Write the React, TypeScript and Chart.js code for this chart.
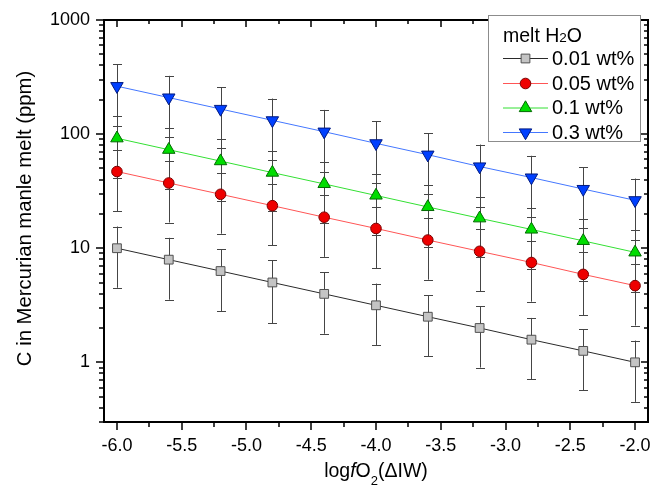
import React, { useEffect, useRef } from 'react';
import { Chart, registerables } from 'chart.js';
import { drawPoint } from 'chart.js/helpers';

Chart.register(...registerables);

// ---------- data ----------
const xValues = [-6.0, -5.6, -5.2, -4.8, -4.4, -4.0, -3.6, -3.2, -2.8, -2.4, -2.0];

const seriesNames = ['0.01 wt%', '0.05 wt%', '0.1 wt%', '0.3 wt%'];

const c001 = [10, 7.94, 6.31, 5.01, 3.98, 3.16, 2.51, 2.0, 1.58, 1.26, 1.0];
const e001 = [5.5, 4.4, 3.5, 2.8, 2.2, 1.74, 1.38, 1.1, 0.87, 0.69, 0.55];

const c005 = [47, 37.3, 29.7, 23.6, 18.7, 14.9, 11.8, 9.4, 7.5, 5.9, 4.7];
const e005 = [26, 20.5, 16.3, 13, 10.3, 8.2, 6.5, 5.2, 4.1, 3.3, 2.6];

const c01 = [92, 73, 58, 46, 36.6, 29, 23, 18.3, 14.6, 11.6, 9.2];
const e01 = [51, 40, 32, 25, 20, 16, 12.7, 10, 8, 6.4, 5.1];

const c03 = [263, 209, 166, 132, 105, 83, 66, 52, 41.6, 33, 26.3];
const e03 = [145, 115, 91, 73, 58, 46, 36, 29, 23, 18, 14.5];

const xMajorTicks = [-6.0, -5.5, -5.0, -4.5, -4.0, -3.5, -3.0, -2.5, -2.0];
const xMinorTicks = [-5.75, -5.25, -4.75, -4.25, -3.75, -3.25, -2.75, -2.25];
const yMajorTicks = [1, 10, 100, 1000];
const yMinorTicks = [
  0.3, 0.4, 0.5, 0.6, 0.7, 0.8, 0.9,
  2, 3, 4, 5, 6, 7, 8, 9,
  20, 30, 40, 50, 60, 70, 80, 90,
  200, 300, 400, 500, 600, 700, 800, 900,
];

const X_MIN = -6.1;
const X_MAX = -1.9;
const Y_MIN = 0.3;
const Y_MAX = 1000;

// ---------- styles ----------
const FONT = '"Liberation Sans", Arial, Helvetica, sans-serif';

const styles = [
  { line: '#2a2a2a', fill: '#c4c4c4', border: '#505050', pointStyle: 'rect', radius: 6.2, rotation: 0 },
  { line: '#ff5555', fill: '#ee0000', border: '#7a0000', pointStyle: 'circle', radius: 5.3, rotation: 0 },
  { line: '#33e033', fill: '#00dd00', border: '#006a00', pointStyle: 'triangle', radius: 7.2, rotation: 0 },
  { line: '#4477ff', fill: '#0040ff', border: '#001a80', pointStyle: 'triangle', radius: 7.2, rotation: 180 },
];

const values = [c001, c005, c01, c03];
const errors = [e001, e005, e01, e03];

const errorBars = {
  id: 'errorBars',
  beforeDatasetsDraw(chart: any) {
    const { ctx, scales } = chart;
    const xs = scales.x;
    const ys = scales.y;
    ctx.save();
    ctx.strokeStyle = '#454545';
    ctx.lineWidth = 1;
    values.forEach((vals, i) => {
      vals.forEach((v, j) => {
        const e = errors[i][j];
        const x = Math.round(xs.getPixelForValue(xValues[j])) + 0.5;
        const yt = ys.getPixelForValue(v + e);
        const yb = ys.getPixelForValue(v - e);
        ctx.beginPath();
        ctx.moveTo(x, yt);
        ctx.lineTo(x, yb);
        ctx.moveTo(x - 4.5, Math.round(yt) + 0.5);
        ctx.lineTo(x + 4.5, Math.round(yt) + 0.5);
        ctx.moveTo(x - 4.5, Math.round(yb) + 0.5);
        ctx.lineTo(x + 4.5, Math.round(yb) + 0.5);
        ctx.stroke();
      });
    });
    ctx.restore();
  },
};

const frameAndExtras = {
  id: 'frameAndExtras',
  afterDraw(chart: any) {
    const { ctx, chartArea: a, scales } = chart;
    const xs = scales.x;
    const ys = scales.y;
    ctx.save();
    ctx.strokeStyle = '#000';
    ctx.lineWidth = 2;
    ctx.strokeRect(a.left, a.top, a.right - a.left, a.bottom - a.top);

    ctx.lineWidth = 1.5;
    ctx.beginPath();
    const MAJ = 8;
    const MIN = 5;
    const MAJ_IN = 7;
    const MIN_IN = 4;
    xMajorTicks.forEach((v) => {
      const x = Math.round(xs.getPixelForValue(v));
      ctx.moveTo(x, a.bottom);
      ctx.lineTo(x, a.bottom + MAJ);
      ctx.moveTo(x, a.top);
      ctx.lineTo(x, a.top + MAJ_IN);
    });
    xMinorTicks.forEach((v) => {
      const x = Math.round(xs.getPixelForValue(v));
      ctx.moveTo(x, a.bottom);
      ctx.lineTo(x, a.bottom + MIN);
      ctx.moveTo(x, a.top);
      ctx.lineTo(x, a.top + MIN_IN);
    });
    yMajorTicks.forEach((v) => {
      const y = Math.round(ys.getPixelForValue(v));
      ctx.moveTo(a.left, y);
      ctx.lineTo(a.left - MAJ, y);
      ctx.moveTo(a.right, y);
      ctx.lineTo(a.right - MAJ_IN, y);
    });
    yMinorTicks.forEach((v) => {
      const y = Math.round(ys.getPixelForValue(v));
      ctx.moveTo(a.left, y);
      ctx.lineTo(a.left - MIN, y);
      ctx.moveTo(a.right, y);
      ctx.lineTo(a.right - MIN_IN, y);
    });
    ctx.stroke();

    // y-axis title
    ctx.fillStyle = '#000';
    ctx.save();
    ctx.translate(25, 218.5);
    ctx.rotate(-Math.PI / 2);
    ctx.font = `20.3px ${FONT}`;
    ctx.textAlign = 'center';
    ctx.textBaseline = 'middle';
    ctx.fillText('C in Mercurian manle melt (ppm)', 0, 0);
    ctx.restore();

    // x-axis title: log f O2 (ΔIW)
    const parts = [
      { t: 'log', font: `19.5px ${FONT}`, dy: 0 },
      { t: 'f', font: `italic 19.5px ${FONT}`, dy: 0 },
      { t: 'O', font: `19.5px ${FONT}`, dy: 0 },
      { t: '2', font: `13px ${FONT}`, dy: 8 },
      { t: '(\u0394IW)', font: `19.5px ${FONT}`, dy: 0 },
    ];
    let total = 0;
    parts.forEach((p) => {
      ctx.font = p.font;
      total += ctx.measureText(p.t).width;
    });
    let px = (a.left + a.right) / 2 - total / 2;
    const base = 477;
    ctx.textAlign = 'left';
    ctx.textBaseline = 'alphabetic';
    parts.forEach((p) => {
      ctx.font = p.font;
      ctx.fillText(p.t, px, base + p.dy);
      px += ctx.measureText(p.t).width;
    });

    // legend
    const L = 488.5, T = 15.5, R = 640.5, B = 141.5;
    ctx.fillStyle = '#fff';
    ctx.fillRect(L, T, R - L, B - T);
    ctx.strokeStyle = '#8c8c8c';
    ctx.lineWidth = 1;
    ctx.strokeRect(L, T, R - L, B - T);

    ctx.fillStyle = '#000';
    ctx.font = `19.5px ${FONT}`;
    ctx.textBaseline = 'alphabetic';
    let tx = 503;
    const tb = 41.5;
    ctx.fillText('melt H', tx, tb);
    tx += ctx.measureText('melt H').width;
    ctx.font = `13.5px ${FONT}`;
    ctx.fillText('2', tx, tb);
    tx += ctx.measureText('2').width;
    ctx.font = `19.5px ${FONT}`;
    ctx.fillText('O', tx, tb);

    const rows = [58, 83, 107.5, 132];
    rows.forEach((ry, i) => {
      const s = styles[i];
      ctx.strokeStyle = s.line;
      ctx.lineWidth = 1;
      ctx.beginPath();
      ctx.moveTo(503, ry + 0.5);
      ctx.lineTo(548, ry + 0.5);
      ctx.stroke();
      ctx.fillStyle = s.fill;
      ctx.strokeStyle = s.border;
      ctx.lineWidth = 1;
      drawPoint(ctx, { pointStyle: s.pointStyle as any, rotation: s.rotation, radius: s.radius, borderWidth: 1 }, 525.5, ry + 0.5);
      ctx.fillStyle = '#000';
      ctx.font = `20px ${FONT}`;
      ctx.textBaseline = 'middle';
      ctx.fillText(seriesNames[i], 552, ry + 1);
    });
    ctx.restore();
  },
};

export default function App() {
  const ref = useRef<HTMLCanvasElement>(null);
  useEffect(() => {
    const datasets = values.map((vals, i) => ({
      label: seriesNames[i],
      data: vals.map((v, j) => ({ x: xValues[j], y: v })),
      borderColor: styles[i].line,
      borderWidth: 1,
      backgroundColor: styles[i].fill,
      pointBackgroundColor: styles[i].fill,
      pointBorderColor: styles[i].border,
      pointBorderWidth: 1,
      pointStyle: styles[i].pointStyle as any,
      pointRotation: styles[i].rotation,
      pointRadius: styles[i].radius,
      pointHoverRadius: styles[i].radius,
      showLine: true,
      fill: false,
      tension: 0,
    }));
    const chart = new Chart(ref.current as HTMLCanvasElement, {
      type: 'line',
      data: { datasets },
      options: {
        responsive: false,
        animation: false,
        devicePixelRatio: 1,
        layout: { autoPadding: false, padding: { left: 0, right: 4, top: 20, bottom: 0 } },
        plugins: {
          legend: { display: false },
          tooltip: { enabled: false },
          title: { display: false },
        },
        events: [],
        scales: {
          x: {
            type: 'linear',
            min: X_MIN,
            max: X_MAX,
            grid: { display: false, drawTicks: false },
            border: { display: false },
            ticks: {
              color: '#000',
              font: { family: FONT, size: 18 },
              padding: 13,
              autoSkip: false,
              maxRotation: 0,
              callback: (v: any) => Number(v).toFixed(1),
            },
            afterBuildTicks: (s: any) => {
              s.ticks = xMajorTicks.map((v) => ({ value: v }));
            },
            afterFit: (s: any) => {
              s.height = 69;
              s.paddingLeft = 0;
              s.paddingRight = 0;
            },
          },
          y: {
            type: 'logarithmic',
            min: Y_MIN,
            max: Y_MAX,
            grid: { display: false, drawTicks: false },
            border: { display: false },
            ticks: {
              color: '#000',
              font: { family: FONT, size: 18 },
              padding: 14,
              autoSkip: false,
              callback: (v: any) => String(Number(v)),
            },
            afterBuildTicks: (s: any) => {
              s.ticks = yMajorTicks.map((v) => ({ value: v }));
            },
            afterFit: (s: any) => {
              s.width = 104;
              s.paddingTop = 0;
              s.paddingBottom = 0;
            },
          },
        },
      },
      plugins: [errorBars, frameAndExtras],
    });
    return () => chart.destroy();
  }, []);
  return (
    <div style={{ position: 'absolute', left: 0, top: 0, width: 652, height: 491, background: '#fff' }}>
      <canvas ref={ref} width={652} height={491} style={{ display: 'block', width: 652, height: 491 }} />
    </div>
  );
}
